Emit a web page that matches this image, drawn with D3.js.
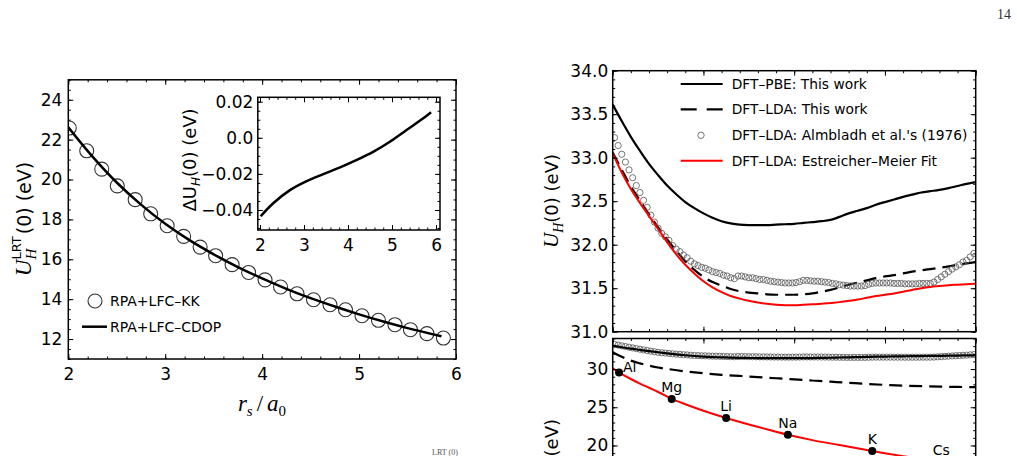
<!DOCTYPE html>
<html><head><meta charset="utf-8">
<script src="https://cdn.jsdelivr.net/npm/d3@7"></script>
<style>body{margin:0;background:#fff} svg{display:block}</style>
</head><body><svg id="c" width="1017" height="456" font-family="DejaVu Sans"></svg>
<script>
// ---------------- DATA ----------------
// Left panel: U_H^LRT(0) vs rs
const kkRs = [2.01,2.19,2.345,2.505,2.69,2.85,3.02,3.19,3.36,3.52,3.69,3.86,4.03,4.19,4.36,4.53,4.70,4.86,5.03,5.20,5.37,5.53,5.70,5.87];
const kkU  = [22.58,21.44,20.52,19.68,18.99,18.28,17.68,17.15,16.61,16.18,15.73,15.34,14.97,14.61,14.27,13.97,13.72,13.47,13.17,12.94,12.72,12.47,12.27,12.05];
const cdopRs = [2.0,2.25,2.5,2.75,3.0,3.25,3.5,3.75,4.0,4.25,4.5,4.75,5.0,5.25,5.5,5.85];
const cdopU  = [22.62,21.15,19.85,18.74,17.78,16.96,16.25,15.61,15.04,14.52,14.05,13.63,13.24,12.88,12.55,12.14];
// Inset: Delta U_H(0)
const insetRs = [2.015,2.30,2.68,3.06,3.44,3.82,4.20,4.58,4.95,5.33,5.71,5.886];
const insetDU = [-0.0435,-0.0363,-0.0290,-0.0240,-0.0201,-0.0164,-0.0123,-0.0077,-0.0022,0.0043,0.0108,0.0142];
// Right panel (top): U_H(0) vs rs
const rsGrid = [2.0,2.1,2.2,2.3,2.4,2.5,2.6,2.7,2.8,2.9,3.0,3.1,3.2,3.3,3.4,3.5,3.6,3.7,3.8,3.9,4.0,4.1,4.2,4.3,4.4,4.5,4.6,4.7,4.8,4.9,5.0,5.1,5.2,5.3,5.4,5.5,5.6,5.7,5.8,5.9,6.0];
const pbeU = [33.61,33.42,33.24,33.08,32.93,32.80,32.68,32.58,32.49,32.42,32.36,32.31,32.27,32.245,32.23,32.225,32.225,32.225,32.23,32.235,32.24,32.25,32.26,32.27,32.285,32.32,32.36,32.39,32.42,32.46,32.49,32.52,32.55,32.575,32.60,32.615,32.63,32.65,32.675,32.70,32.72];
const ldaU = [33.06,32.86,32.67,32.51,32.35,32.20,32.06,31.93,31.81,31.71,31.63,31.57,31.53,31.49,31.465,31.45,31.44,31.43,31.425,31.425,31.425,31.43,31.44,31.46,31.48,31.51,31.54,31.565,31.59,31.615,31.635,31.65,31.67,31.69,31.705,31.72,31.735,31.75,31.77,31.785,31.80];
const emU  = [33.05,32.83,32.64,32.48,32.33,32.18,32.03,31.89,31.77,31.67,31.58,31.51,31.455,31.41,31.38,31.355,31.335,31.32,31.31,31.305,31.305,31.31,31.315,31.32,31.33,31.34,31.355,31.37,31.39,31.41,31.425,31.44,31.46,31.48,31.50,31.515,31.525,31.535,31.54,31.545,31.55];
const almRs = [2.02,2.06,2.10,2.14,2.18,2.22,2.26,2.30,2.34,2.38,2.42,2.46,2.50,2.54,2.58,2.62,2.66,2.70,2.74,2.78,2.82,2.86,2.90,2.94,2.98,3.02,3.06,3.10,3.14,3.18,3.22,3.26,3.30,3.34,3.38,3.42,3.46,3.50,3.54,3.58,3.62,3.66,3.70,3.74,3.78,3.82,3.86,3.90,3.94,3.98,4.02,4.06,4.10,4.14,4.18,4.22,4.26,4.30,4.34,4.38,4.42,4.46,4.50,4.54,4.58,4.62,4.66,4.70,4.74,4.78,4.82,4.86,4.90,4.94,4.98,5.02,5.06,5.10,5.14,5.18,5.22,5.26,5.30,5.34,5.38,5.42,5.46,5.50,5.54,5.58,5.62,5.66,5.70,5.74,5.78,5.82,5.86,5.90,5.94,5.98];
const almU  = [33.23,33.14,33.04,32.95,32.86,32.77,32.68,32.60,32.51,32.43,32.34,32.26,32.19,32.13,32.09,32.05,31.99,31.95,31.92,31.88,31.85,31.81,31.78,31.76,31.74,31.73,31.71,31.69,31.68,31.67,31.65,31.64,31.62,31.61,31.64,31.64,31.63,31.62,31.62,31.61,31.60,31.60,31.59,31.58,31.575,31.57,31.565,31.56,31.56,31.56,31.565,31.575,31.59,31.59,31.585,31.58,31.58,31.575,31.57,31.565,31.555,31.55,31.54,31.535,31.53,31.525,31.525,31.525,31.525,31.53,31.545,31.555,31.56,31.56,31.56,31.56,31.56,31.555,31.555,31.555,31.55,31.55,31.55,31.55,31.555,31.555,31.555,31.555,31.57,31.60,31.63,31.66,31.69,31.72,31.745,31.77,31.80,31.82,31.86,31.90];
// Right panel (bottom)
const botDashRs = [2.0,2.1,2.2,2.3,2.4,2.5,2.6,2.8,3.0,3.2,3.4,3.6,3.8,4.0,4.2,4.4,4.6,4.8,5.0,5.2,5.4,5.6,5.8,6.0];
const botDashU  = [32.2,31.6,31.1,30.75,30.45,30.2,30.02,29.7,29.45,29.25,29.1,28.95,28.8,28.65,28.5,28.35,28.2,28.05,27.93,27.83,27.76,27.7,27.66,27.63];
const botRedRs = [2.0,2.1,2.2,2.3,2.4,2.5,2.65,2.8,3.0,3.25,3.5,3.75,3.93,4.2,4.5,4.86,5.2,5.62,6.0];
const botRedU  = [30.1,29.35,28.7,28.1,27.55,27.0,26.1,25.4,24.55,23.6,22.75,21.95,21.4,20.7,20.05,19.27,18.6,17.85,17.2];
const metalNames = ["Al","Mg","Li","Na","K","Cs"];
const metalRs = [2.07,2.65,3.25,3.93,4.86,5.62];
const metalU  = [29.55,26.07,23.6,21.4,19.27,17.87];
// Tick labels
const leftXTicks = [2,3,4,5,6];
const leftYTicks = [12,14,16,18,20,22,24];
const insetXTicks = [2,3,4,5,6];
const insetYTicks = [-0.04,-0.02,0.0,0.02];
const rightXTicks = [2,3,4,5,6];
const rightTopYTicks = [31.0,31.5,32.0,32.5,33.0,33.5,34.0];
const rightBotYTicks = [15,20,25,30];
const leftLegend = ["RPA+LFC\u2013KK","RPA+LFC\u2013CDOP"];
const rightLegend = ["DFT\u2013PBE: This work","DFT\u2013LDA: This work","DFT\u2013LDA: Almbladh et al.'s (1976)","DFT\u2013LDA: Estreicher\u2013Meier Fit"];

// ---------------- DRAWING ----------------
const svg = d3.select("#c");
svg.append("rect").attr("width",1017).attr("height",456).attr("fill","#fff");
const defs = svg.append("defs");
function clip(id,x,y,w,h){defs.append("clipPath").attr("id",id).append("rect").attr("x",x).attr("y",y).attr("width",w).attr("height",h);return `url(#${id})`;}
const rng = (a,b,s)=>d3.range(Math.round((b-a)/s)+1).map(i=>+(a+i*s).toFixed(6));

function axes(x,y,o){
  const [x0,x1]=x.range(), [y0,y1]=y.range();
  const g = svg.append("g");
  const mk=(fn,sc,vals,size,fmt,tx,ty,pad)=>{
    const a=fn(sc).tickValues(vals).tickSize(-size).tickPadding(pad);
    a.tickFormat(fmt||(()=>""));
    const gg=g.append("g").attr("transform",`translate(${tx},${ty})`).call(a);
    gg.select(".domain").remove();
    gg.attr("font-family","DejaVu Sans").attr("font-size",o.fs||17);
    gg.selectAll("line").attr("stroke","#000").attr("stroke-width",1);
    gg.selectAll("text").attr("fill","#000");
  };
  const M=5,m=2.5;
  mk(d3.axisBottom,x,o.xMin,m,null,0,y0,4); mk(d3.axisBottom,x,o.xMaj,M,o.xFmt,0,y0,o.xPad||9);
  mk(d3.axisTop,x,o.xMin,m,null,0,y1,4); mk(d3.axisTop,x,o.xMaj,M,null,0,y1,4);
  mk(d3.axisLeft,y,o.yMin,m,null,x0,0,4); mk(d3.axisLeft,y,o.yMaj,M,o.yFmt,x0,0,o.yPad||6);
  mk(d3.axisRight,y,o.yMin,m,null,x1,0,4); mk(d3.axisRight,y,o.yMaj,M,null,x1,0,4);
  g.append("rect").attr("x",x0).attr("y",y1).attr("width",x1-x0).attr("height",y0-y1)
   .attr("fill","none").attr("stroke","#000").attr("stroke-width",1.5);
}
function rich(x,y,rot,parts){
  const g=svg.append("g").attr("transform",`translate(${x},${y}) rotate(${rot})`);
  let cx=0,ps=0; const ns=[];
  parts.forEach(p=>{
    const t=g.append("text").text(p.t).attr("font-family",p.f).attr("font-size",p.s)
      .attr("font-style",p.i?"italic":"normal").attr("y",p.dy||0).attr("fill","#000");
    const st=p.stack?ps:cx; t.attr("x",st);
    const w=t.node().getComputedTextLength();
    if(!p.stack){ps=st;cx=st+w+(p.gap||0);} else {cx=Math.max(cx,st+w+(p.gap||0));}
    ns.push(t);
  });
  ns.forEach(n=>n.attr("x",+n.attr("x")-cx/2));
}

// ===== Left main panel =====
const xL=d3.scaleLinear([2,6],[68.3,456]), yL=d3.scaleLinear([11,25],[359,79.8]);
const cL=clip("cl",68.3,79.8,456-68.3,359-79.8);
const gL=svg.append("g").attr("clip-path",cL);
gL.selectAll("circle").data(d3.zip(kkRs,kkU)).join("circle")
  .attr("cx",d=>xL(d[0])).attr("cy",d=>yL(d[1])).attr("r",7)
  .attr("fill","none").attr("stroke","#333").attr("stroke-width",1.1);
gL.append("path").datum(d3.zip(cdopRs,cdopU))
  .attr("d",d3.line().x(d=>xL(d[0])).y(d=>yL(d[1])).curve(d3.curveCatmullRom))
  .attr("fill","none").attr("stroke","#000").attr("stroke-width",2.5);
axes(xL,yL,{xMaj:leftXTicks,xMin:rng(2,6,0.2),yMaj:leftYTicks,yMin:rng(11,25,0.5),xFmt:d3.format("d"),yFmt:d3.format("d")});
// legend left
svg.append("circle").attr("cx",95).attr("cy",301).attr("r",7).attr("fill","none").attr("stroke","#333").attr("stroke-width",1.1);
svg.append("line").attr("x1",82).attr("x2",107).attr("y1",326.7).attr("y2",326.7).attr("stroke","#000").attr("stroke-width",2.5);
svg.append("text").attr("x",110).attr("y",306).attr("font-size",14).text(leftLegend[0]);
svg.append("text").attr("x",110).attr("y",331.5).attr("font-size",14).text(leftLegend[1]);
// labels
rich(31,219,-90,[{t:"U",f:"Liberation Serif",s:23,i:true},{t:"H",f:"Liberation Serif",s:15,i:true,dy:5},
  {t:"LRT",f:"DejaVu Sans",s:13,dy:-10,stack:true,gap:2},{t:"(0) (eV)",f:"DejaVu Sans",s:19}]);
rich(262,411,0,[{t:"r",f:"Liberation Serif",s:23,i:true},{t:"s",f:"Liberation Serif",s:15,i:true,dy:5,gap:4},
  {t:"/",f:"Liberation Serif",s:23,gap:4},{t:"a",f:"Liberation Serif",s:23,i:true},{t:"0",f:"Liberation Serif",s:15,dy:5}]);

// ===== Inset =====
const xI=d3.scaleLinear([1.95,6.09],[257.8,440]), yI=d3.scaleLinear([-0.0511,0.02244],[230,97.3]);
svg.append("rect").attr("x",257.8).attr("y",97.3).attr("width",440-257.8).attr("height",230-97.3).attr("fill","#fff");
svg.append("path").datum(d3.zip(insetRs,insetDU))
  .attr("d",d3.line().x(d=>xI(d[0])).y(d=>yI(d[1])).curve(d3.curveCatmullRom))
  .attr("fill","none").attr("stroke","#000").attr("stroke-width",2.5);
axes(xI,yI,{xMaj:insetXTicks,xMin:rng(2,6,0.2),yMaj:insetYTicks,yMin:rng(-0.05,0.02,0.005),
  xFmt:d3.format("d"),yFmt:v=>Math.abs(v)<1e-9?"0.0":d3.format(".2f")(v),xPad:8.5,yPad:4.5,fs:17});
rich(196,160,-90,[{t:"\u0394U",f:"DejaVu Sans",s:18},{t:"H",f:"DejaVu Sans",s:12,i:true,dy:4},{t:"(0) (eV)",f:"DejaVu Sans",s:18}]);

// ===== Right top panel =====
const xR=d3.scaleLinear([2,6],[612.7,975.7]), yRT=d3.scaleLinear([31,34],[331.7,70.7]);
const cRT=clip("crt",612.7,70.7,975.7-612.7,331.7-70.7);
const gRT=svg.append("g").attr("clip-path",cRT);
const lineRT=d3.line().x(d=>xR(d[0])).y(d=>yRT(d[1])).curve(d3.curveCatmullRom);
gRT.append("path").datum(d3.zip(rsGrid,pbeU)).attr("d",lineRT).attr("fill","none").attr("stroke","#000").attr("stroke-width",2.2);
gRT.append("path").datum(d3.zip(rsGrid,ldaU)).attr("d",lineRT).attr("fill","none").attr("stroke","#000").attr("stroke-width",2.2).attr("stroke-dasharray","13,7");
gRT.selectAll("circle").data(d3.zip(almRs,almU)).join("circle")
  .attr("cx",d=>xR(d[0])).attr("cy",d=>yRT(d[1])).attr("r",3.1)
  .attr("fill","none").attr("stroke","#555").attr("stroke-width",0.8);
gRT.append("path").datum(d3.zip(rsGrid,emU)).attr("d",lineRT).attr("fill","none").attr("stroke","#ff0000").attr("stroke-width",2);
axes(xR,yRT,{xMaj:rightXTicks,xMin:rng(2,6,0.2),yMaj:rightTopYTicks,yMin:rng(31,34,0.1),xFmt:null,yFmt:d3.format(".1f"),yPad:4.5});
// legend right
const lgY=[84,109.3,135.3,160.7];
svg.append("line").attr("x1",680.7).attr("x2",722.7).attr("y1",lgY[0]).attr("y2",lgY[0]).attr("stroke","#000").attr("stroke-width",2.2);
svg.append("line").attr("x1",680.7).attr("x2",722.7).attr("y1",lgY[1]).attr("y2",lgY[1]).attr("stroke","#000").attr("stroke-width",2.2).attr("stroke-dasharray","16,10");
svg.append("circle").attr("cx",701).attr("cy",lgY[2]).attr("r",3.2).attr("fill","none").attr("stroke","#555").attr("stroke-width",0.8);
svg.append("line").attr("x1",680.7).attr("x2",722.7).attr("y1",lgY[3]).attr("y2",lgY[3]).attr("stroke","#ff0000").attr("stroke-width",2);
rightLegend.forEach((t,i)=>svg.append("text").attr("x",731.7).attr("y",lgY[i]+5).attr("font-size",13.8).text(t));
rich(558,201,-90,[{t:"U",f:"Liberation Serif",s:21,i:true},{t:"H",f:"Liberation Serif",s:14,i:true,dy:5},{t:"(0) (eV)",f:"DejaVu Sans",s:18}]);

// ===== Right bottom panel =====
const yRB=d3.scaleLinear([14,34],[491.3,338.5]);
const cRB=clip("crb",612.7,338.5,975.7-612.7,491.3-338.5);
const gRB=svg.append("g").attr("clip-path",cRB);
const lineRB=d3.line().x(d=>xR(d[0])).y(d=>yRB(d[1])).curve(d3.curveCatmullRom);
gRB.selectAll("circle.a").data(d3.zip(almRs,almU)).join("circle").attr("class","a")
  .attr("cx",d=>xR(d[0])).attr("cy",d=>yRB(d[1])).attr("r",3.1)
  .attr("fill","none").attr("stroke","#555").attr("stroke-width",0.8);
gRB.append("path").datum(d3.zip(rsGrid,ldaU)).attr("d",lineRB).attr("fill","none").attr("stroke","#000").attr("stroke-width",2.2);
gRB.append("path").datum(d3.zip(botDashRs,botDashU)).attr("d",lineRB).attr("fill","none").attr("stroke","#000").attr("stroke-width",2.2).attr("stroke-dasharray","13,7");
gRB.append("path").datum(d3.zip(botRedRs,botRedU)).attr("d",lineRB).attr("fill","none").attr("stroke","#ff0000").attr("stroke-width",2);
gRB.selectAll("circle.m").data(d3.zip(metalRs,metalU)).join("circle").attr("class","m")
  .attr("cx",d=>xR(d[0])).attr("cy",d=>yRB(d[1])).attr("r",4).attr("fill","#000");
axes(xR,yRB,{xMaj:rightXTicks,xMin:rng(2,6,0.2),yMaj:rightBotYTicks,yMin:rng(14,34,1),xFmt:null,yFmt:d3.format("d"),yPad:4.5});
metalNames.forEach((n,i)=>{
  const al=i===0;
  svg.append("text").attr("x",xR(metalRs[i])+(al?4:0)).attr("y",yRB(metalU[i])+(al?0:-7))
    .attr("text-anchor",al?"start":"middle").attr("font-size",14).text(n);
});
rich(558,466,-90,[{t:"U",f:"Liberation Serif",s:21,i:true},{t:"H",f:"Liberation Serif",s:14,i:true,dy:5},{t:"(0) (eV)",f:"DejaVu Sans",s:18}]);

// page furniture
svg.append("text").attr("x",1011).attr("y",19).attr("text-anchor","end").attr("font-family","Liberation Serif").attr("font-size",14).attr("fill","#333").text("14");
svg.append("text").attr("x",432).attr("y",455).attr("font-family","Liberation Serif").attr("font-size",8).attr("fill","#555").text("LRT (0)");
</script></body></html>
